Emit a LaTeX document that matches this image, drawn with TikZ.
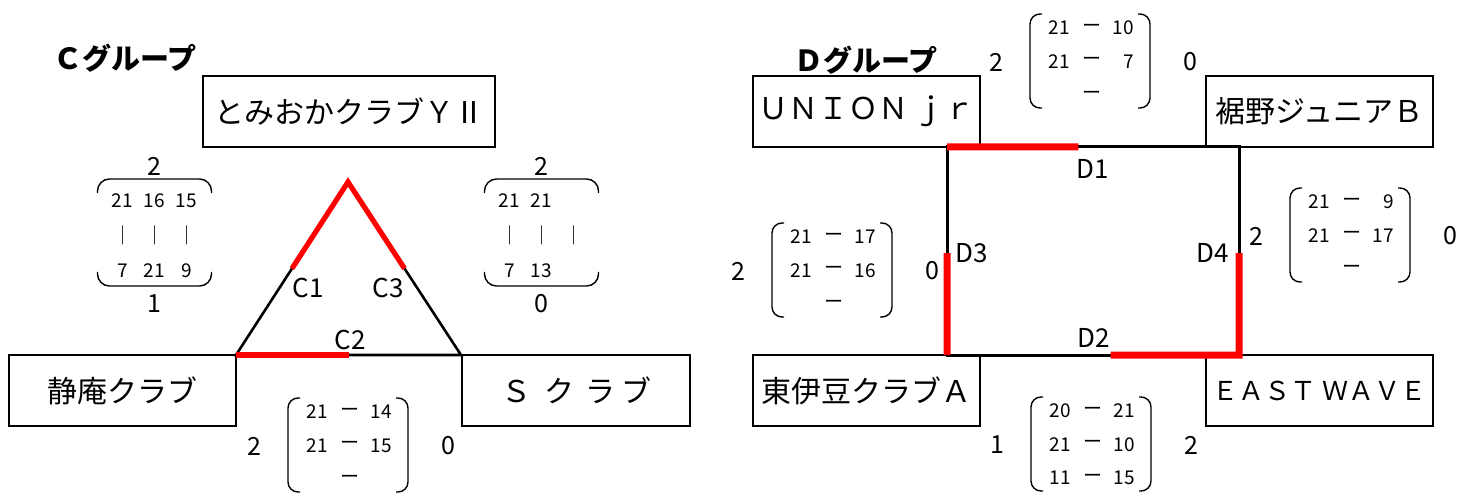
\documentclass[tikz,border=0pt]{standalone}
\usepackage{fontspec}
\setmainfont{Noto Sans CJK JP}
\usetikzlibrary{calc}
\tikzset{team/.style={draw, line width=0.8pt, minimum height=35.5pt, inner sep=0, font=\fontsize{15}{18}\selectfont}}
\tikzset{num/.style={inner sep=0, font=\fontsize{9.5}{11}\selectfont}}
\tikzset{pts/.style={inner sep=0, font=\fontsize{12.5}{14}\selectfont}}
\tikzset{lab/.style={inner sep=0, font=\fontsize{13}{15}\selectfont}}
\tikzset{win/.style={draw=red, line width=3.5pt}}

% name, x, y, left score, right score, rows
\newcommand\mtx[6]{
  \draw[line width=0.7pt, rounded corners=5pt] (#2-48,#3-48) -- (#2-60,#3-48) -- (#2-60,#3+46) -- (#2-48,#3+46);
  \draw[line width=0.7pt, rounded corners=5pt] (#2+48,#3-48) -- (#2+60,#3-48) -- (#2+60,#3+46) -- (#2+48,#3+46);
  \node[pts](#1l) at (#2-94,#3) {#4};
  \node[pts](#1r) at (#2+100,#3) {#5};
  \foreach \a/\b [count=\i] in {#6}
  {
    \node[num](#1a\i) at (#2-31,#3-34+\i*33.5-33.5) {\a};
    \node[num](#1d\i) at (#2+2,#3-34+\i*33.5-33.5) {ー};
    \node[num, anchor=east](#1b\i) at (#2+44,#3-34+\i*33.5-33.5) {\b};
  }
}

% name, x, top score, bottom score, columns
\newcommand\col[5]{
  \node[pts](#1t) at (#2,166) {#3};
  \node[pts](#1u) at (#2,304) {#4};
  \draw[line width=0.7pt, rounded corners=6pt] (#2-57,193) -- (#2-57,179) -- (#2+57,179) -- (#2+57,193);
  \draw[line width=0.7pt, rounded corners=6pt] (#2-57,272) -- (#2-57,286) -- (#2+57,286) -- (#2+57,272);
  \foreach \a/\b [count=\i] in {#5}
  {
    \node[num](#1a\i) at (#2-64+\i*32,201) {\a};
    \node[num](#1v\i) at (#2-64+\i*32,235) {｜};
    \node[num](#1b\i) at (#2-64+\i*32,271) {\b};
  }
}

\begin{document}
\begin{tikzpicture}[x=0.5pt, y=-0.5pt]
  \useasboundingbox (0,0) rectangle (1477,497);

  % C group
  \node[pts, font=\bfseries\fontsize{14.5}{16}\selectfont](ctitle) at (125,58) {Ｃグループ};
  \node[team, minimum width=146pt](tomi) at (349,111.5) {とみおかクラブＹⅡ};
  \node[team, minimum width=113.5pt](shizu) at (122.5,390.5) {静庵クラブ};
  \node[team, minimum width=114pt](sclub) at (576,390.5) {Ｓ\hspace{7pt}ク\hspace{5pt}ラ\hspace{3pt}ブ};

  \coordinate (ct) at (348,182);
  \coordinate (cl) at (236,355);
  \coordinate (cr) at (461,355);
  \draw[line width=1.3pt] (ct) -- (cl) -- (cr) -- cycle;
  \draw[win, line width=2.6pt] ($(ct)!0.5!(cl)$) -- (ct) -- ($(ct)!0.5!(cr)$);
  \draw[win, line width=2.6pt] (cl) -- ($(cl)!0.5!(cr)$);
  \node[lab](c1) at (308,288) {C1};
  \node[lab](c2) at (350,340) {C2};
  \node[lab](c3) at (388,288) {C3};

  \col{cw}{154.5}{2}{1}{21/7,16/21,15/9}
  \col{ce}{541.5}{2}{0}{21/7,21/13,/}
  \mtx{cs}{348}{446}{2}{0}{21/14,21/15,/}

  % D group
  \node[pts, font=\bfseries\fontsize{14.5}{16}\selectfont](dtitle) at (866,60) {Ｄグループ};
  \node[team, minimum width=113.5pt](union) at (866.5,111.5) {ＵＮＩＯＮ ｊｒ};
  \node[team, minimum width=113.5pt](suso) at (1319.5,111.5) {裾野ジュニアＢ};
  \node[team, minimum width=113.5pt](higa) at (866.5,390.5) {東伊豆クラブＡ};
  \node[team, minimum width=113.5pt, font=\fontsize{13}{16}\selectfont](east) at (1319.5,390.5) {ＥＡＳＴ ＷＡＶＥ};

  \coordinate (dtl) at (947,147);
  \coordinate (dtr) at (1239,147);
  \coordinate (dbr) at (1239,355);
  \coordinate (dbl) at (947,355);
  \draw[line width=1.5pt] (dtl) -- (dtr) -- (dbr) -- (dbl) -- cycle;
  \draw[win] (dtl) -- ($(dtl)!0.45!(dtr)$);
  \draw[win] ($(dtl)!0.51!(dbl)$) -- (dbl);
  \draw[win] ($(dbl)!0.56!(dbr)$) -- (dbr) -- ($(dtr)!0.51!(dbr)$);
  \node[lab](d1) at (1093,169) {D1};
  \node[lab](d2) at (1094,338) {D2};
  \node[lab](d3) at (972,253) {D3};
  \node[lab](d4) at (1213,253) {D4};

  \mtx{dn}{1090}{62}{2}{0}{21/10,21/7,/}
  \mtx{dw}{832}{271}{2}{0}{21/17,21/16,/}
  \mtx{de}{1350}{236}{2}{0}{21/9,21/17,/}
  \mtx{ds}{1091}{445}{1}{2}{20/21,21/10,11/15}
\end{tikzpicture}
\end{document}
